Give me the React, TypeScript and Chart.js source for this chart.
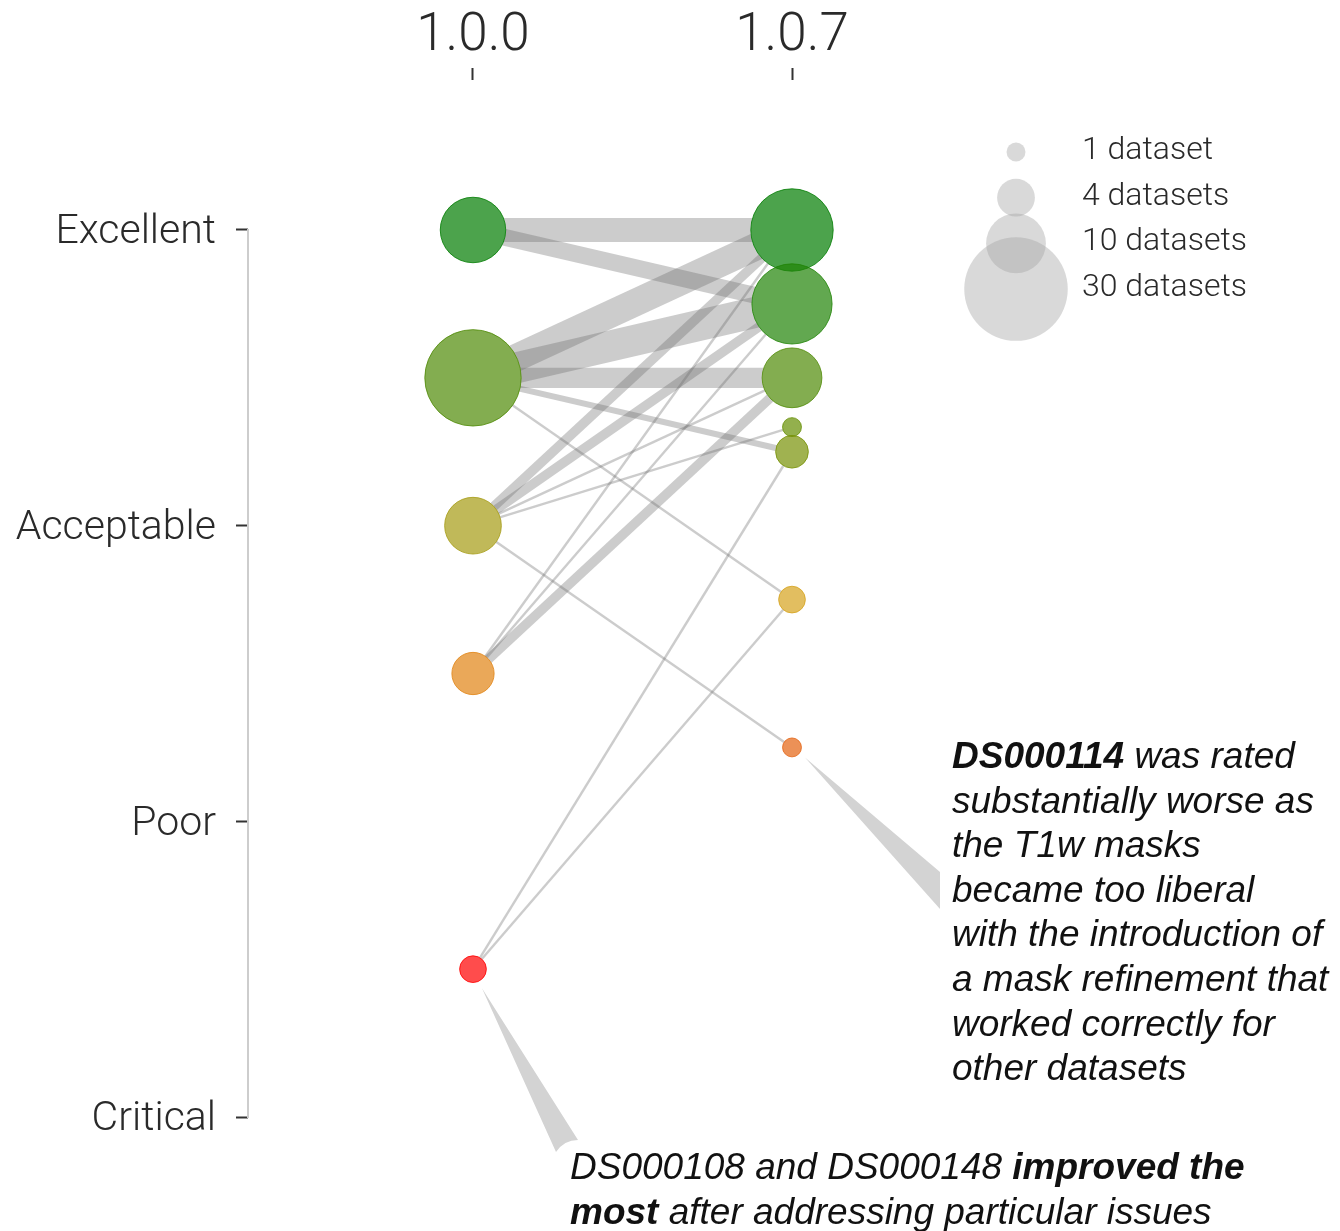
import React, { useEffect, useRef } from 'react';
import { Chart, registerables } from 'chart.js';

Chart.register(...registerables);

const versions = ['1.0.0', '1.0.7'];
const levelLabels = ['Critical', 'Poor', 'Acceptable', 'Excellent'];

// mean rating and number of datasets at each bubble
const ratingsV100 = [3, 2.5, 2, 1.5, 0.5];
const countsV100 = [12, 26, 9, 5, 2];
const ratingsV107 = [3, 2.75, 2.5, 7 / 3, 2.25, 1.75, 1.25];
const countsV107 = [19, 18, 10, 1, 3, 2, 1];

// how datasets moved from 1.0.0 to 1.0.7
const linkFrom = [3, 3, 2.5, 2.5, 2.5, 2.5, 2.5, 2, 2, 2, 2, 2, 1.5, 1.5, 1.5, 0.5, 0.5];
const linkTo = [3, 2.75, 3, 2.75, 2.5, 2.25, 1.75, 3, 2.75, 2.5, 7 / 3, 1.25, 3, 2.75, 2.5, 2.25, 1.75];
const linkCount = [7, 5, 8, 9, 6, 2, 1, 3, 3, 1, 1, 1, 1, 1, 3, 1, 1];

const legendCounts = [1, 4, 10, 30];
const legendLabels = ['1 dataset', '4 datasets', '10 datasets', '30 datasets'];

const note114: [string, boolean][][] = [
    [['DS000114', true], [' was rated', false]],
    [['substantially worse as', false]],
    [['the T1w masks', false]],
    [['became too liberal', false]],
    [['with the introduction of', false]],
    [['a mask refinement that', false]],
    [['worked correctly for', false]],
    [['other datasets', false]],
];
const note108: [string, boolean][][] = [
    [['DS000108 and DS000148 ', false], ['improved the', true]],
    [['most', true], [' after addressing particular issues', false]],
];

const LIGHT = 'Roboto, "Liberation Sans", sans-serif';
const ITALIC = '"Liberation Sans", Arial, sans-serif';

const radius = (n: number) => 9.45 * Math.sqrt(n);

// fill colours (drawn with alpha 0.7) per rating
const ratingColors: Record<string, [number, number, number]> = {
    '3.00': [0, 124, 0],
    '2.75': [31, 131, 5],
    '2.50': [79, 138, 5],
    '2.33': [101, 142, 2],
    '2.25': [119, 145, 5],
    '2.00': [165, 155, 19],
    '1.75': [214, 162, 28],
    '1.50': [225, 131, 19],
    '1.25': [228, 98, 16],
    '0.50': [255, 0, 0],
};
const rc = (v: number, a: number) => {
    const c = ratingColors[v.toFixed(2)] || [120, 120, 120];
    return `rgba(${c[0]},${c[1]},${c[2]},${a})`;
};

const bubbles = (x: number, ratings: number[], counts: number[]) =>
    ratings.map((r, i) => ({ x, y: r, r: radius(counts[i]) }));

const axisLinePlugin = {
    id: 'axisLine',
    beforeDatasetsDraw(chart: any) {
        const { ctx, chartArea, scales } = chart;
        ctx.save();
        ctx.strokeStyle = '#cdcdcd';
        ctx.lineWidth = 2;
        ctx.beginPath();
        ctx.moveTo(chartArea.left, scales.y.getPixelForValue(3) - 1);
        ctx.lineTo(chartArea.left, scales.y.getPixelForValue(0) + 1);
        ctx.stroke();
        ctx.restore();
    },
};

const drawNote = (ctx: CanvasRenderingContext2D, lines: [string, boolean][][], x: number, y0: number, step: number) => {
    ctx.fillStyle = '#111';
    ctx.textBaseline = 'alphabetic';
    ctx.textAlign = 'left';
    lines.forEach((line, i) => {
        let cx = x;
        line.forEach(([txt, bold]) => {
            ctx.font = `italic ${bold ? 700 : 400} 37px ${ITALIC}`;
            ctx.fillText(txt, cx, y0 + i * step);
            cx += ctx.measureText(txt).width;
        });
    });
};

const annotationPlugin = {
    id: 'annotations',
    afterDraw(chart: any) {
        const { ctx, scales } = chart;
        const xs = scales.x, ys = scales.y;
        ctx.save();

        // size legend
        legendCounts.forEach((n, i) => {
            const cy = 151 + i * 45.7;
            ctx.fillStyle = 'rgba(165,165,165,0.42)';
            ctx.beginPath();
            ctx.arc(1016, cy + 1, radius(n), 0, Math.PI * 2);
            ctx.fill();
            ctx.fillStyle = '#2a2a2a';
            ctx.font = `300 32px ${LIGHT}`;
            ctx.textBaseline = 'middle';
            ctx.textAlign = 'left';
            ctx.fillText(legendLabels[i], 1082, cy);
        });

        ctx.fillStyle = '#d3d3d3';
        // wedge to DS000114 bubble
        const ax = xs.getPixelForValue(1), ay = ys.getPixelForValue(1.25);
        ctx.beginPath();
        ctx.moveTo(ax + 13, ay + 10);
        ctx.lineTo(940, 872);
        ctx.lineTo(940, 909);
        ctx.closePath();
        ctx.fill();
        // wedge to DS000108 / DS000148 bubble
        const bx = xs.getPixelForValue(0), by = ys.getPixelForValue(0.5);
        ctx.beginPath();
        ctx.moveTo(bx + 9, by + 19);
        ctx.lineTo(578, 1140);
        ctx.quadraticCurveTo(564, 1140, 556, 1152);
        ctx.closePath();
        ctx.fill();

        drawNote(ctx, note114, 952, 768, 44.6);
        drawNote(ctx, note108, 570, 1179, 45);
        ctx.restore();
    },
};

const App: React.FC = () => {
    const chartRef = useRef<HTMLCanvasElement | null>(null);
    const chartInstanceRef = useRef<Chart | null>(null);

    useEffect(() => {
        if (!chartRef.current) return;
        const ctx = chartRef.current.getContext('2d');
        if (!ctx) return;

        const linkSets = linkFrom.map((from, i) => ({
            type: 'line' as const,
            data: [{ x: 0, y: from }, { x: 1, y: linkTo[i] }],
            borderColor: 'rgba(110,110,110,0.35)',
            borderWidth: 3.6 * linkCount[i] - 1.2,
            borderCapStyle: 'butt' as const,
            pointRadius: 0,
            fill: false,
            clip: false as const,
            order: 2,
        }));

        const pts100 = bubbles(0, ratingsV100, countsV100);
        const pts107 = bubbles(1, ratingsV107, countsV107);

        const underlay = (pts: any[]) => ({
            type: 'bubble' as const,
            data: pts,
            backgroundColor: '#ffffff',
            borderWidth: 0,
            clip: false as const,
            order: 1,
        });
        const colored = (pts: any[], ratings: number[]) => ({
            type: 'bubble' as const,
            data: pts,
            backgroundColor: ratings.map((r) => rc(r, 0.7)),
            borderColor: ratings.map((r) => rc(r, 0.8)),
            borderWidth: 1,
            clip: false as const,
            order: 0,
        });

        chartInstanceRef.current = new Chart(ctx, {
            type: 'bubble',
            data: {
                datasets: [
                    ...linkSets,
                    underlay(pts100),
                    underlay(pts107),
                    colored(pts100, ratingsV100),
                    colored(pts107, ratingsV107),
                ] as any,
            },
            options: {
                responsive: false,
                animation: false,
                events: [],
                layout: { padding: { top: 0, right: 50, bottom: 60, left: 0 } },
                plugins: {
                    legend: { display: false },
                    tooltip: { enabled: false },
                },
                scales: {
                    x: {
                        type: 'linear',
                        position: 'top',
                        min: -0.7053,
                        max: 2.5611,
                        afterFit: (s: any) => { s.height = 80; },
                        afterBuildTicks: (s: any) => { s.ticks = versions.map((_, i) => ({ value: i })); },
                        ticks: {
                            callback: (v: any) => versions[v],
                            font: { family: LIGHT, weight: 300 as any, size: 53, lineHeight: 1.05 },
                            color: '#2a2a2a',
                            padding: 3,
                            maxRotation: 0,
                            autoSkip: false,
                        },
                        grid: { drawOnChartArea: false, drawTicks: true, tickLength: 12, tickColor: '#333', tickWidth: 2 },
                        border: { display: false },
                    },
                    y: {
                        type: 'linear',
                        min: -0.1826,
                        max: 3.5073,
                        afterFit: (s: any) => { s.width = 248; },
                        afterBuildTicks: (s: any) => { s.ticks = levelLabels.map((_, i) => ({ value: i })); },
                        ticks: {
                            callback: (v: any) => levelLabels[v],
                            font: { family: LIGHT, weight: 300 as any, size: 41 },
                            color: '#2a2a2a',
                            padding: 20,
                            labelOffset: 3,
                            autoSkip: false,
                        },
                        grid: { drawOnChartArea: false, drawTicks: true, tickLength: 12, tickColor: '#333', tickWidth: 2 },
                        border: { display: false },
                    },
                },
            },
            plugins: [axisLinePlugin, annotationPlugin],
        });

        return () => {
            if (chartInstanceRef.current) {
                chartInstanceRef.current.destroy();
                chartInstanceRef.current = null;
            }
        };
    }, []);

    return (
        <div style={{ position: 'absolute', left: 0, top: 0, width: 1340, height: 1231, background: '#fff' }}>
            <canvas ref={chartRef} width="1340" height="1231"></canvas>
        </div>
    );
};

export default App;
